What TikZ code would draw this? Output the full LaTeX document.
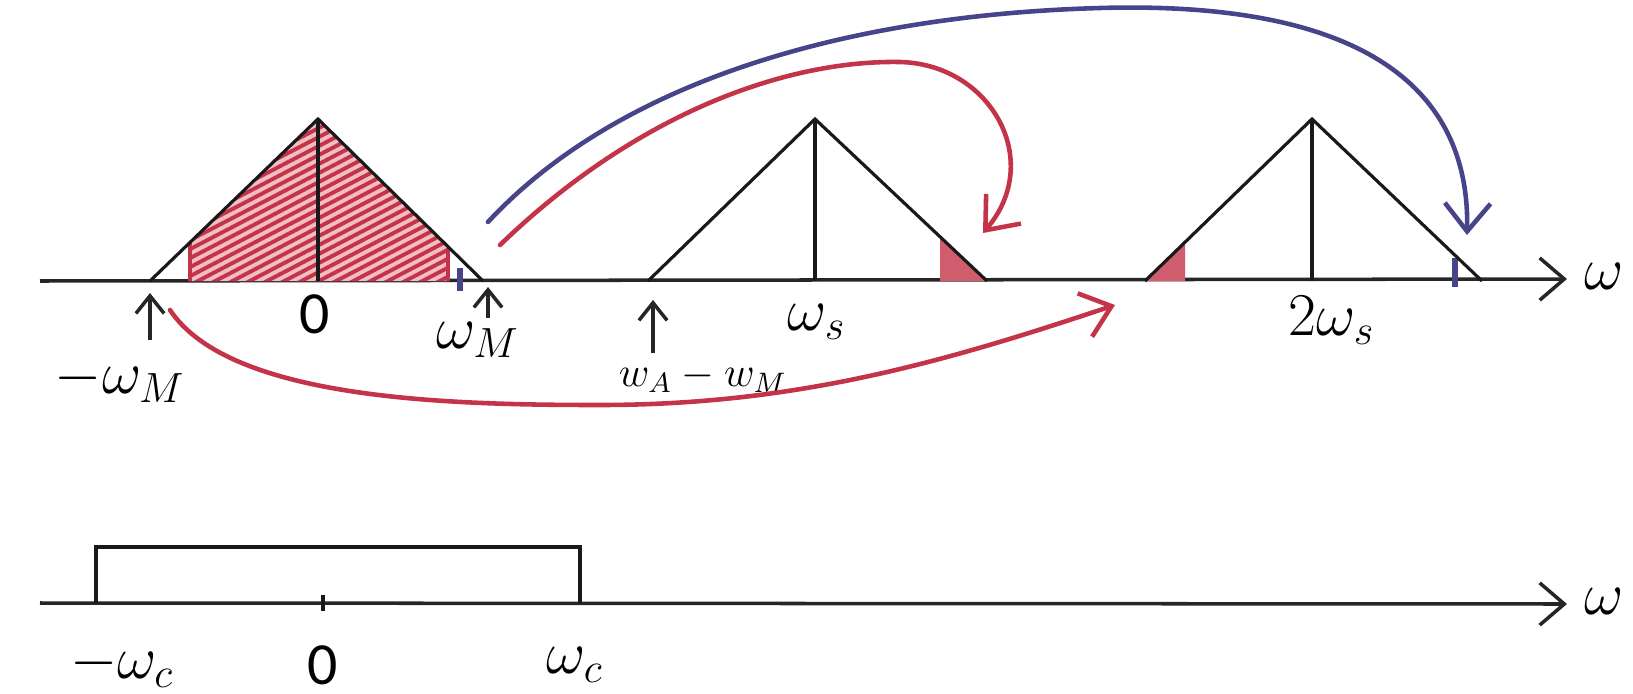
\documentclass[tikz,border=0pt]{standalone}
\usepackage{fontspec}
\newfontfamily\labelsans{Carlito}
\usepackage{amsmath}
\usetikzlibrary{arrows.meta, positioning}
\definecolor{penred}{RGB}{196,52,72}
\definecolor{penblue}{RGB}{72,68,138}
\definecolor{hatchfill}{RGB}{242,190,195}

\begin{document}
\begin{tikzpicture}[
  x=0.01cm, y=-0.01cm,
  axis/.style={line width=1pt, black!85, -{Straight Barb[length=7pt,width=12pt]}},
  spec/.style={line width=0.9pt, black!90},
  pen/.style={line width=1.3pt, line cap=round, -{Straight Barb[length=8pt,width=13pt]}},
  tickup/.style={line width=1pt, black!85, -{Straight Barb[length=5pt,width=8pt]}},
  lbl/.style={font=\fontsize{17}{20}\selectfont, inner sep=0pt}
]
  \useasboundingbox (0,0) rectangle (1633,694);

  % upper spectrum
  \coordinate (axL) at (40,281);
  \coordinate (axR) at (1567,279);
  \draw[axis] (axL) -- (axR);
  \node[lbl] (wtop) at (1604,276) {$\omega$};

  \foreach \n/\l/\c/\r in {0/150/318/483, 1/648/815/987, 2/1145/1312/1482} {
    \coordinate (l\n) at (\l,281);
    \coordinate (c\n) at (\c,281);
    \coordinate (p\n) at (\c,119);
    \coordinate (r\n) at (\r,281);
  }

  % hatched part of the base band
  \begin{scope}
    \clip (190,281) -- (190,243) -- (p0) -- (448,248) -- (448,281) -- cycle;
    \fill[hatchfill] (150,100) rectangle (500,300);
    \foreach \k in {0,...,38}
      \draw[penred, line width=1.1pt] (150,{450-9*\k}) -- ++(330,-172);
  \end{scope}
  \draw[penred, line width=1pt] (190,281) -- (190,243);
  \draw[penred, line width=1pt] (448,281) -- (448,248);

  % aliased pieces
  \fill[penred!80] (940,281) -- (940,237) -- (r1) -- cycle;
  \fill[penred!80] (l2) -- (1185,242) -- (1185,281) -- cycle;
  \draw[penblue, line width=1.6pt] (460,268) -- (460,291);
  \draw[penblue, line width=1.6pt] (1455,258) -- (1455,287);

  \foreach \n in {0,1,2} {
    \draw[spec] (l\n) -- (p\n) -- (r\n);
    \draw[spec] (p\n) -- (c\n);
  }

  \node[lbl] (zero) at (315,314) {\labelsans 0};
  \node[lbl] (wM) at (478,340) {$\omega_M$};
  \node[lbl] (mwM) at (120,380) {$-\omega_M$};
  \node[lbl] (ws) at (817,322) {$\omega_s$};
  \node[lbl] (tws) at (1332,320) {$2\omega_s$};
  \node[font=\fontsize{12}{14}\selectfont, inner sep=0pt] (wAM) at (703,377) {$w_A - w_M$};

  \coordinate (mwMa) at (150,340);
  \coordinate (mwMb) at (150,293);
  \coordinate (wMa) at (488,318);
  \coordinate (wMb) at (488,287);
  \coordinate (wAMa) at (653,353);
  \coordinate (wAMb) at (653,300);
  \draw[tickup] (mwMa) -- (mwMb);
  \draw[tickup] (wMa) -- (wMb);
  \draw[tickup] (wAMa) -- (wAMb);

  % folding arcs
  \coordinate (redA) at (500,245);
  \coordinate (redB) at (983,233);
  \draw[pen, penred] (redA) .. controls (640,110) and (790,60) .. (900,62)
    .. controls (990,64) and (1045,160) .. (redB);
  \coordinate (blueA) at (488,222);
  \coordinate (blueB) at (1467,235);
  \draw[pen, penblue] (blueA) .. controls (620,80) and (850,15) .. (1100,8)
    .. controls (1380,0) and (1470,100) .. (blueB);
  \coordinate (lowA) at (170,310);
  \coordinate (lowB) at (1115,305);
  \draw[pen, penred] (lowA) .. controls (230,400) and (450,405) .. (600,405)
    .. controls (800,405) and (950,360) .. (lowB);

  % lower: ideal low-pass
  \coordinate (bxL) at (40,603);
  \coordinate (bxR) at (1567,604);
  \draw[axis] (bxL) -- (bxR);
  \node[lbl] (wbot) at (1604,601) {$\omega$};
  \coordinate (fl) at (96,603);
  \coordinate (fr) at (580,603);
  \draw[spec] (fl) -- (96,547) -- (580,547) -- (fr);
  \draw[spec] (323,595) -- (323,611);
  \node[lbl] (mwc) at (122,665) {$-\omega_c$};
  \node[lbl] (zerob) at (323,665) {\labelsans 0};
  \node[lbl] (wc) at (575,665) {$\omega_c$};
\end{tikzpicture}
\end{document}
